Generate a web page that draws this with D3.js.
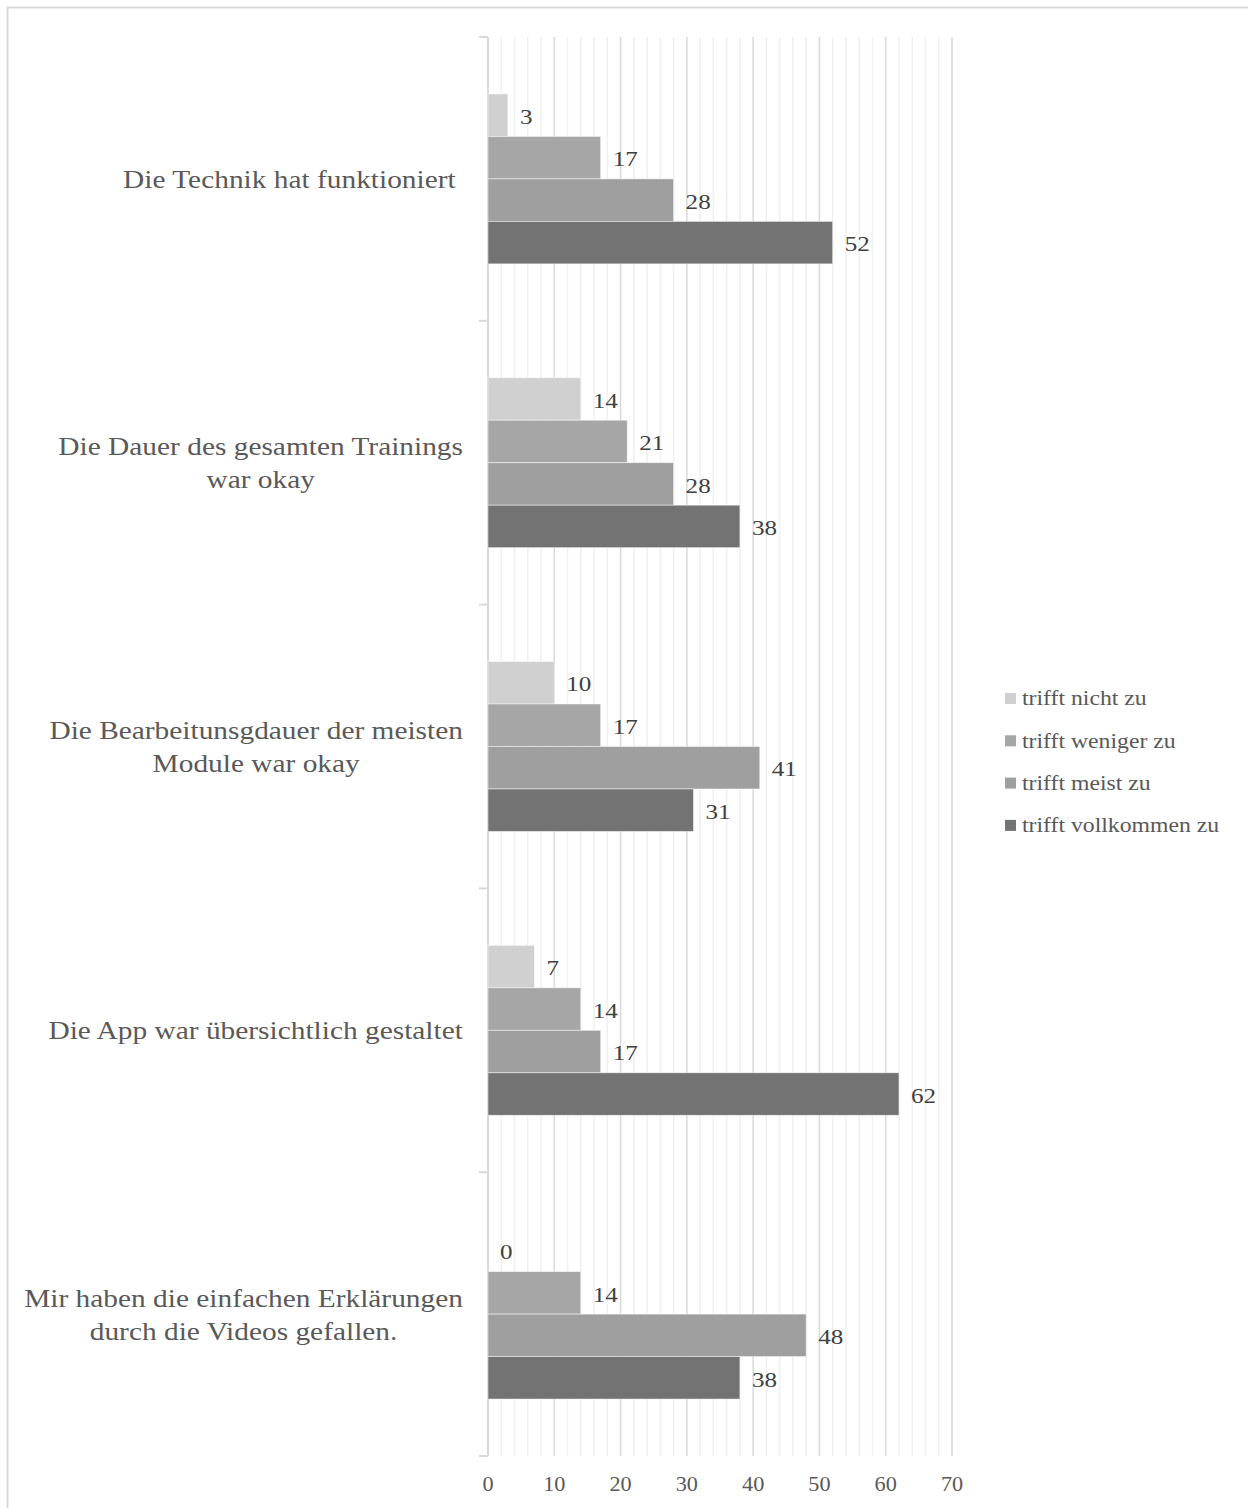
<!DOCTYPE html>
<html>
<head>
<meta charset="utf-8">
<script src="https://cdn.jsdelivr.net/npm/d3@7"></script>
<style>
  html, body { margin: 0; padding: 0; background: #ffffff; }
  svg { display: block; }
</style>
</head>
<body>
<svg id="chart" width="1248" height="1508"></svg>
<script>
// Survey statements (each label split into its display lines)
const categories = [
  ["Die Technik hat funktioniert "],
  ["Die Dauer des gesamten Trainings", "war okay"],
  ["Die Bearbeitunsgdauer der meisten", "Module war okay"],
  ["Die App war übersichtlich gestaltet"],
  ["Mir haben die einfachen Erklärungen", "durch die Videos gefallen."]
];
const seriesNames = ["trifft nicht zu", "trifft weniger zu", "trifft meist zu", "trifft vollkommen zu"];
const seriesColors = ["#d0d0d0", "#a6a6a6", "#9f9f9f", "#737373"];
// Percent of answers per statement, one array per answer option
const trifftNicht = [3, 14, 10, 7, 0];
const trifftWeniger = [17, 21, 17, 14, 14];
const trifftMeist = [28, 28, 41, 17, 48];
const trifftVollkommen = [52, 38, 31, 62, 38];
const seriesValues = [trifftNicht, trifftWeniger, trifftMeist, trifftVollkommen];
const xTicks = [0, 10, 20, 30, 40, 50, 60, 70];

const svg = d3.select("#chart");
const font = "'Liberation Serif', 'Times New Roman', serif";

// the serif face is set slightly wide: text is drawn in a group stretched horizontally
function wideText(parent, px, py, sx, size, fill, anchor) {
  const grp = parent.append("g").attr("transform", `translate(${px},${py}) scale(${sx},1)`);
  return grp.append("text")
    .attr("x", 0).attr("y", 0).attr("dy", "0.35em")
    .attr("text-anchor", anchor || "start")
    .attr("font-family", font).attr("font-size", size)
    .attr("fill", fill);
}

// outer frame
svg.append("rect")
  .attr("x", 7.5).attr("y", 7.5).attr("width", 1260).attr("height", 1520)
  .attr("fill", "#ffffff").attr("stroke", "#d9d9d9").attr("stroke-width", 2);

const plot = { left: 488, right: 952, top: 37, bottom: 1456 };

const x = d3.scaleLinear().domain([0, 70]).range([plot.left, plot.right]);
const yCat = d3.scaleBand().domain(d3.range(categories.length))
  .range([plot.top, plot.bottom]).padding(0);
const ySer = d3.scaleBand().domain(d3.range(seriesNames.length))
  .range([0, yCat.bandwidth()]).paddingInner(0).paddingOuter(1.34);

// minor gridlines every 2
const g = svg.append("g");
g.selectAll("line.minor").data(d3.range(2, 71, 2).filter(v => v % 10 !== 0))
  .join("line").attr("class", "minor")
  .attr("x1", d => x(d)).attr("x2", d => x(d))
  .attr("y1", plot.top).attr("y2", plot.bottom)
  .attr("stroke", "#f0f0f0").attr("stroke-width", 1.5);
// major gridlines every 10
g.selectAll("line.major").data(xTicks.filter(v => v > 0))
  .join("line").attr("class", "major")
  .attr("x1", d => x(d)).attr("x2", d => x(d))
  .attr("y1", plot.top).attr("y2", plot.bottom)
  .attr("stroke", "#d9d9d9").attr("stroke-width", 1.5);

// category axis line with ticks on band boundaries
svg.append("line")
  .attr("x1", plot.left).attr("x2", plot.left)
  .attr("y1", plot.top).attr("y2", plot.bottom)
  .attr("stroke", "#d9d9d9").attr("stroke-width", 2);
svg.selectAll("line.ctick").data(d3.range(categories.length + 1))
  .join("line").attr("class", "ctick")
  .attr("x1", plot.left - 9).attr("x2", plot.left)
  .attr("y1", d => plot.top + d * yCat.step()).attr("y2", d => plot.top + d * yCat.step())
  .attr("stroke", "#d9d9d9").attr("stroke-width", 2);

// bars
const groups = svg.selectAll("g.cat").data(categories.map((c, i) => i))
  .join("g").attr("class", "cat")
  .attr("transform", i => `translate(0,${yCat(i)})`);

groups.selectAll("rect").data(i => seriesValues.map((vals, s) => ({ s, v: vals[i] })))
  .join("rect")
  .attr("x", x(0))
  .attr("y", d => ySer(d.s))
  .attr("width", d => x(d.v) - x(0))
  .attr("height", ySer.bandwidth())
  .attr("fill", d => seriesColors[d.s])
  .attr("stroke", d => d.v > 0 ? "#ffffff" : "none")
  .attr("stroke-width", 0.8)
  .attr("stroke-opacity", 0.6);

// value labels
groups.each(function (i) {
  const grp = d3.select(this);
  seriesValues.forEach((vals, s) => {
    wideText(grp, x(vals[i]) + 12, ySer(s) + ySer.bandwidth() / 2 + 1, 1.14, 22, "#404040")
      .text(vals[i]);
  });
});

// category labels, right-aligned block with centred lines
const lineH = 33;
const catSx = 1.13;
categories.forEach((lines, i) => {
  const cy = yCat(i) + yCat.bandwidth() / 2;
  const grp = svg.append("g").attr("transform", `translate(463,${cy}) scale(${catSx},1)`);
  const t = grp.append("text")
    .attr("font-family", font).attr("font-size", 26)
    .attr("fill", "#595959")
    .attr("text-anchor", "middle")
    .attr("xml:space", "preserve");
  lines.forEach((ln, k) => {
    t.append("tspan").attr("x", 0)
      .attr("y", (k - (lines.length - 1) / 2) * lineH)
      .attr("dy", "0.35em")
      .text(ln);
  });
  const w = t.node().getBBox().width;
  t.selectAll("tspan").attr("x", -w / 2);
});

// x axis tick labels
xTicks.forEach(v => {
  wideText(svg, x(v), 1484, 1.06, 21, "#595959", "middle").text(v);
});

// legend
const legend = svg.append("g").attr("transform", "translate(1005,698)");
seriesNames.forEach((name, s) => {
  const row = legend.append("g").attr("transform", `translate(0,${s * 42.3})`);
  row.append("rect").attr("x", 0).attr("y", -5).attr("width", 11).attr("height", 11)
    .attr("fill", seriesColors[s]);
  wideText(row, 17, 0, 1.13, 21, "#595959").text(name);
});
</script>
</body>
</html>
